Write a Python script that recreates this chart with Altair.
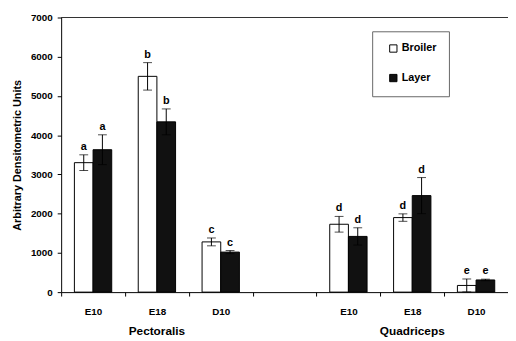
import altair as alt
import pandas as pd

cats = ["P-E10", "P-E18", "P-D10", "gap", "Q-E10", "Q-E18", "Q-D10"]
bar_cats = ["P-E10", "P-E18", "P-D10", "Q-E10", "Q-E18", "Q-D10"]
series = ["Broiler", "Layer"]
broiler = [3300, 5500, 1280, 1730, 1900, 170]
broiler_err = [200, 350, 100, 200, 95, 165]
layer = [3630, 4340, 1020, 1420, 2460, 310]
layer_err = [380, 330, 40, 220, 460, 20]
broiler_letters = ["a", "b", "c", "d", "d", "e"]
layer_letters = ["a", "b", "c", "d", "d", "e"]
groups = ["Pectoralis", "Quadriceps"]
group_cats = ["P-E18", "Q-E18"]

rows = []
for i, c in enumerate(bar_cats):
    rows.append(dict(cat=c, series="Broiler", value=broiler[i], err=broiler_err[i], letter=broiler_letters[i]))
    rows.append(dict(cat=c, series="Layer", value=layer[i], err=layer_err[i], letter=layer_letters[i]))
df = pd.DataFrame(rows)
df["lo"] = (df["value"] - df["err"]).clip(lower=0)
df["hi"] = df["value"] + df["err"]

dfg = pd.DataFrame({"cat": group_cats, "label": groups})

W, H = 454, 279
FONT = "Liberation Sans"

x = alt.X(
    "cat:N",
    scale=alt.Scale(domain=cats, paddingInner=0, paddingOuter=0),
    axis=alt.Axis(
        title=None,
        labelExpr="indexof(datum.label, '-') > 0 ? split(datum.label, '-')[1] : ''",
        tickBand="extent",
        labelAngle=0,
        labelFontWeight="bold",
        labelFontSize=10,
        labelFont=FONT,
        labelColor="black",
        tickSize=4,
        tickColor="black",
        domainColor="black",
        labelPadding=11,
    ),
)
xoff = alt.XOffset("series:N", scale=alt.Scale(domain=series, paddingInner=0, paddingOuter=0.71))


def ychan(field):
    return alt.Y(
        field + ":Q",
        scale=alt.Scale(domain=[0, 7000], nice=False),
        axis=alt.Axis(
            values=list(range(0, 7001, 1000)),
            format="d",
            title="Arbitrary Densitometric Units",
            titleFont=FONT,
            titleFontSize=11,
            titleFontWeight="bold",
            titleColor="black",
            titlePadding=8,
            grid=False,
            labelFont=FONT,
            labelFontSize=10,
            labelFontWeight="bold",
            labelColor="black",
            tickSize=4,
            tickColor="black",
            domainColor="black",
            labelPadding=5,
        ),
    )


fill = alt.Fill(
    "series:N",
    scale=alt.Scale(domain=series, range=["white", "#111111"]),
    legend=alt.Legend(
        title=None,
        orient="none",
        legendX=316,
        legendY=14,
        padding=12,
        strokeColor="#666666",
        symbolType="square",
        symbolSize=55,
        symbolStrokeColor="black",
        symbolStrokeWidth=1,
        symbolOffset=4,
        labelFont=FONT,
        labelFontSize=11,
        labelFontWeight="bold",
        labelColor="black",
        labelOffset=3,
        rowPadding=17,
    ),
)

bars = alt.Chart(df).mark_bar(stroke="black", strokeWidth=1).encode(
    x=x, xOffset=xoff, y=ychan("value"), fill=fill
)
errs = alt.Chart(df).mark_rule(color="black", strokeWidth=1).encode(
    x=x, xOffset=xoff, y=ychan("lo"), y2="hi:Q"
)
cap_hi = alt.Chart(df).mark_tick(color="black", size=9, thickness=1).encode(
    x=x, xOffset=xoff, y=ychan("hi")
)
cap_lo = alt.Chart(df).mark_tick(color="black", size=9, thickness=1).encode(
    x=x, xOffset=xoff, y=ychan("lo")
)
letters = alt.Chart(df).mark_text(
    baseline="bottom", dy=-3, font=FONT, fontSize=11, fontWeight="bold", color="black"
).encode(x=x, xOffset=xoff, y=ychan("hi"), text="letter:N")
group_text = alt.Chart(dfg).mark_text(
    baseline="middle", font=FONT, fontSize=12, fontWeight="bold", color="black"
).encode(x=x, y=alt.value(H + 40), text="label:N")
top_line = alt.Chart(dfg).mark_rule(color="#333333", strokeWidth=1).encode(
    x=alt.value(0), x2=alt.value(W), y=alt.value(0)
)

chart = (
    alt.layer(bars, errs, cap_hi, cap_lo, letters, group_text, top_line)
    .properties(
        width=W,
        height=H,
        autosize="none",
        padding={"left": 54, "top": 7, "right": 0, "bottom": 47},
        background="white",
    )
    .configure_view(stroke=None)
)

chart.save("out.html", embed_options={"renderer": "svg", "actions": False})
